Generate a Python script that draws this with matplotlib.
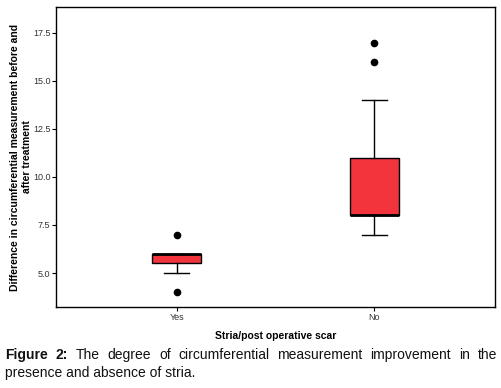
import matplotlib
matplotlib.use('Agg')
import matplotlib.pyplot as plt

# values
groups = ['Yes', 'No']
q1 = [5.5, 8.0]
medians = [6.0, 8.0]
q3 = [6.0, 11.0]
whisker_low = [5.0, 7.0]
whisker_high = [6.0, 14.0]
outliers = [[7.0, 4.0], [17.0, 16.0]]
yticks = [5.0, 7.5, 10.0, 12.5, 15.0, 17.5]

plt.rcParams['font.family'] = ['Liberation Sans', 'DejaVu Sans']

fig = plt.figure(figsize=(5.02, 3.88), dpi=100)
ax = fig.add_axes([56 / 502, 81 / 388, 439 / 502, 300 / 388])

stats = []
for i, name in enumerate(groups):
    stats.append({'label': name, 'med': medians[i], 'q1': q1[i], 'q3': q3[i],
                  'whislo': whisker_low[i], 'whishi': whisker_high[i],
                  'fliers': outliers[i]})

ax.bxp(stats, positions=range(len(groups)), widths=0.25, patch_artist=True,
       boxprops=dict(facecolor='#f2353d', edgecolor='black', linewidth=1.0),
       medianprops=dict(color='black', linewidth=2.0),
       whiskerprops=dict(color='black', linewidth=1.0),
       capprops=dict(color='black', linewidth=1.0),
       flierprops=dict(marker='o', markerfacecolor='black', markeredgecolor='black',
                       markersize=4.5))

ax.set_xlim(-0.61, 1.61)
ax.set_ylim(3.23, 18.85)
ax.set_yticks(yticks)
ax.set_yticklabels([f'{v:.1f}' for v in yticks])
ax.tick_params(axis='both', direction='out', length=3, width=0.8,
               labelsize=6.5, labelcolor='#333333', pad=1)
for s in ax.spines.values():
    s.set_linewidth(1.0)

ax.set_xlabel('Stria/post operative scar', fontsize=7.5, fontweight='bold', labelpad=7)
ax.set_ylabel('Difference in circumferential measurement before and\nafter treatment',
              fontsize=7.5, fontweight='bold', labelpad=1, linespacing=1.15)

# justified caption, first line spread over the full width
fig.canvas.draw()
renderer = fig.canvas.get_renderer()
W = 502
x0, x1 = 5, 497
y1 = 1 - 355 / 388
y2 = 1 - 373 / 388
cap_size = 10
words = [('Figure', 'bold'), ('2:', 'bold'), ('The', 'normal'), ('degree', 'normal'),
         ('of', 'normal'), ('circumferential', 'normal'), ('measurement', 'normal'),
         ('improvement', 'normal'), ('in', 'normal'), ('the', 'normal')]
texts = []
widths = []
for w, wt in words:
    t = fig.text(0, y1, w, fontsize=cap_size, fontweight=wt, color='#111111', va='center')
    texts.append(t)
    widths.append(t.get_window_extent(renderer).width)
gap = (x1 - x0 - sum(widths)) / (len(words) - 1)
pos = x0
for t, w in zip(texts, widths):
    t.set_x(pos / W)
    pos += w + gap
fig.text(x0 / W, y2, 'presence and absence of stria.', fontsize=cap_size,
         color='#111111', va='center')

fig.savefig('out.png', dpi=100)
